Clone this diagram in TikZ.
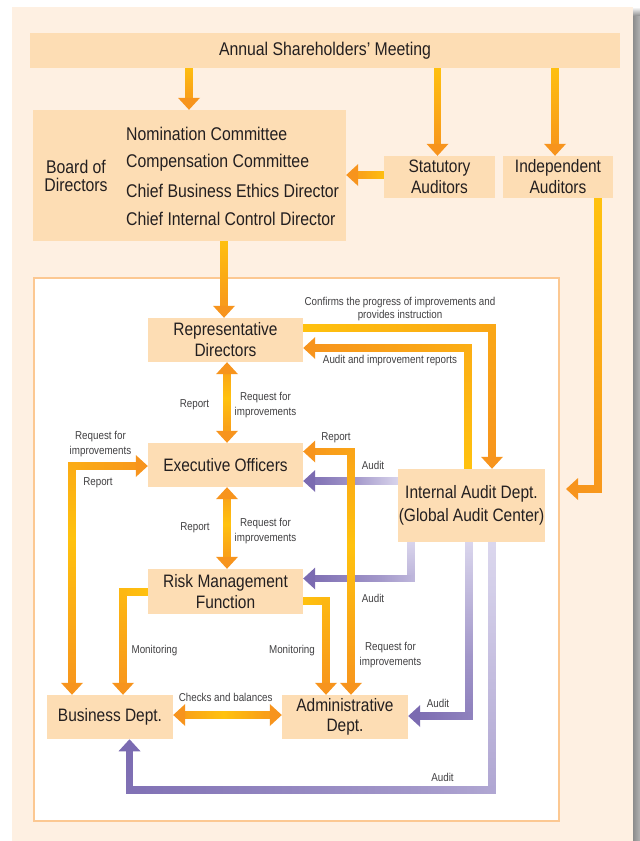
\documentclass[tikz,border=0pt]{standalone}
\usepackage{fontspec}
\setmainfont{Liberation Sans}[FakeStretch=0.86]
\usetikzlibrary{decorations.markings,calc}
\definecolor{cOr}{HTML}{F7941D}
\definecolor{cYe}{HTML}{FFC20E}
\colorlet{cYO}{cYe!50!cOr}
\definecolor{cPu}{HTML}{7B6BB1}
\definecolor{cLa}{HTML}{DCD8EE}
\colorlet{cLP}{cLa!40!cPu}
\definecolor{cBox}{HTML}{FDDDB4}
\definecolor{cBg}{HTML}{FEF0E2}
\definecolor{cBd}{HTML}{FCC892}
\definecolor{cTx}{HTML}{231F20}
\definecolor{cLb}{HTML}{414042}
\pgfdeclarelayer{bg}
\pgfsetlayers{bg,main}
\newcommand\gsq[5]{%
  \pgfmathsetmacro\gD{\pgfkeysvalueof{/pgf/decoration/mark info/distance from start}}%
  \pgfmathsetmacro\gL{\pgfdecoratedpathlength}%
  \pgfmathtruncatemacro\gOK{(\gD>=#4*12-0.01)&&(\gD<=\gL-#5*12+0.01)}%
  \ifnum\gOK=1
    \pgfmathtruncatemacro\gP{round((\gD/\gL)*200)}%
    \ifnum\gP<100
      \fill[color=#2!\gP!#1] (-3.75pt,-3.75pt) rectangle (3.75pt,3.75pt);%
    \else
      \pgfmathtruncatemacro\gQ{min(\gP-100,100)}%
      \fill[color=#3!\gQ!#2] (-3.75pt,-3.75pt) rectangle (3.75pt,3.75pt);%
    \fi
  \fi}
\tikzset{
  box/.style={fill=cBox, draw=none, text=cTx, inner sep=0pt, align=center,
    font=\fontsize{18}{21}\selectfont},
  txt/.style={text=cTx, inner sep=0pt, align=center, font=\fontsize{18.4}{21}\selectfont},
  lbl/.style={text=cLb, inner sep=0pt, align=center, font=\fontsize{11.4}{15}\selectfont},
  conn/.style n args={5}{draw=none,
    postaction={decorate, decoration={markings,
      mark=between positions 0 and 1 step 1pt with {\gsq{#1}{#2}{#3}{#4}{#5}}}},
    postaction={decorate, decoration={markings,
      mark=at position 0 with {\ifnum#4=1 \fill[#1] (0pt,0pt)--(12pt,11pt)--(12pt,-11pt)--cycle;\fi},
      mark=at position 0.9999 with {\ifnum#5=1 \fill[#3] (0pt,0pt)--(-12pt,11pt)--(-12pt,-11pt)--cycle;\fi}}}},
}
\begin{document}
\begin{tikzpicture}[x=1pt,y=-1pt]
\useasboundingbox (0,0) rectangle (640,841);
% nodes
\node[box, minimum width=590, minimum height=35, font=\fontsize{18.4}{21}\selectfont] (asm) at (325,50.5) {Annual Shareholders’ Meeting};
\node[box, minimum width=313, minimum height=131] (board) at (189.5,175.5) {};
\node[txt, font=\fontsize{18.4}{18}\selectfont] (boardlbl) at (76,176) {Board of\\Directors};
\node[txt, anchor=west] (nom) at (126,133.7) {Nomination Committee};
\node[txt, anchor=west] (comp) at (126,162.7) {Compensation Committee};
\node[txt, anchor=west] (ethic) at (126,190.7) {Chief Business Ethics Director};
\node[txt, anchor=west] (ctrl) at (126,219) {Chief Internal Control Director};
\node[box, minimum width=111, minimum height=42] (stat) at (439.5,177) {Statutory\\Auditors};
\node[box, minimum width=110, minimum height=42] (indep) at (558,177) {Independent\\Auditors};
\node[box, minimum width=155, minimum height=44] (rep) at (225.5,340) {Representative\\Directors};
\node[box, minimum width=155, minimum height=44] (exec) at (225.5,465) {Executive Officers};
\node[box, minimum width=155, minimum height=45, font=\fontsize{18}{20.3}\selectfont] (risk) at (225.5,591.5) {Risk Management\\Function};
\node[box, minimum width=126, minimum height=44] (biz) at (110,717) {Business Dept.};
\node[box, minimum width=126, minimum height=44, font=\fontsize{18}{19.7}\selectfont] (admin) at (345,717) {Administrative\\Dept.};
\node[box, minimum width=147, minimum height=73, font=\fontsize{18}{23.5}\selectfont] (iad) at (471.5,505.5) {Internal Audit Dept.\\(Global Audit Center)};
% labels
\node[lbl, font=\fontsize{11.4}{12.5}\selectfont] (lconf) at (400,309) {Confirms the progress of improvements and\\provides instruction};
\node[lbl] (laur) at (390,361) {Audit and improvement reports};
\node[lbl] (lrpt1) at (194.5,405) {Report};
\node[lbl] (lreq1) at (265.5,405) {Request for\\improvements};
\node[lbl, font=\fontsize{11.4}{14.5}\selectfont] (lreqL) at (100.5,444) {Request for\\improvements};
\node[lbl] (lrptL) at (98,483) {Report};
\node[lbl] (lrptR) at (336,437.5) {Report};
\node[lbl] (laud1) at (373,465) {Audit};
\node[lbl] (lrpt2) at (195,528) {Report};
\node[lbl] (lreq2) at (265.5,531) {Request for\\improvements};
\node[lbl] (laud2) at (373,598) {Audit};
\node[lbl] (lmon1) at (154.5,651) {Monitoring};
\node[lbl] (lmon2) at (292,651) {Monitoring};
\node[lbl, font=\fontsize{11.4}{14.7}\selectfont] (lreq3) at (390.5,655) {Request for\\improvements};
\node[lbl] (lchk) at (225.7,697) {Checks and balances};
\node[lbl] (laud3) at (438,703.5) {Audit};
\node[lbl] (laud4) at (442.5,777.5) {Audit};
\coordinate (indA) at ($(indep.south east)+(-15,0)$);
\coordinate (indT) at (566,489);
\begin{pgfonlayer}{bg}
\fill[cBg] (12,7) rectangle (633,841);
\shade[top color=white, bottom color=black!45] (633,7) rectangle (640,16);
\shade[left color=black!45, right color=black!30] (633,16) rectangle (640,841);
\node[draw=cBd, line width=2.5pt, fill=white, minimum width=525, minimum height=543, inner sep=0pt] (inner) at (296.5,549.5) {};
% purple audit connectors
\draw[conn={cLa}{cLP}{cPu}{0}{1}] ($(iad.west)+(0,-24.5)$) -- ($(exec.east)+(0,16)$);
\draw[conn={cLa}{cLP}{cPu}{0}{1}] ($(iad.south)+(-60.5,0)$) |- ($(risk.east)+(0,-13)$);
\draw[conn={cLa}{cLP}{cPu}{0}{1}] ($(iad.south)+(-2.5,0)$) |- ($(admin.east)+(0,-1)$);
\draw[conn={cLa}{cLP}{cPu}{0}{1}] ($(iad.south)+(20.5,0)$) |- ($(biz.south)+(19.5,51)$) -- ($(biz.south)+(19.5,0)$);
% orange connectors
\draw[conn={cYe}{cYO}{cOr}{0}{1}] ($(board.north |- asm.south)+(-0.5,0)$) -- ($(board.north)+(-0.5,0)$);
\draw[conn={cYe}{cYO}{cOr}{0}{1}] ($(stat.north |- asm.south)+(-2,0)$) -- ($(stat.north)+(-2,0)$);
\draw[conn={cYe}{cYO}{cOr}{0}{1}] ($(indep.north |- asm.south)+(-3,0)$) -- ($(indep.north)+(-3,0)$);
\draw[conn={cYe}{cYO}{cOr}{0}{1}] ($(stat.west)+(0,-2)$) -- ($(board.east |- stat.west)+(0,-2)$);
\draw[conn={cYe}{cYO}{cOr}{0}{1}] (indA) |- (indT);
\draw[conn={cYe}{cYO}{cOr}{0}{1}] ($(rep.north |- board.south)+(-1.5,0)$) -- ($(rep.north)+(-1.5,0)$);
\draw[conn={cYe}{cYO}{cOr}{0}{1}] ($(rep.east)+(0,-12)$) -| ($(iad.north)+(20.5,0)$);
\draw[conn={cYe}{cYO}{cOr}{0}{1}] ($(iad.north)+(-3.5,0)$) |- ($(rep.east)+(0,8)$);
\draw[conn={cOr}{cYe}{cOr}{1}{1}] ($(rep.south)+(1.5,0)$) -- ($(exec.north)+(1.5,0)$);
\draw[conn={cOr}{cYe}{cOr}{1}{1}] ($(exec.south)+(1.5,0)$) -- ($(risk.north)+(1.5,0)$);
\draw[conn={cOr}{cYe}{cOr}{1}{1}] ($(exec.west)+(0,1)$) -| ($(biz.north)+(-38,0)$);
\draw[conn={cOr}{cYe}{cOr}{1}{1}] ($(exec.east)+(0,-13.5)$) -| ($(admin.north)+(6,0)$);
\draw[conn={cYe}{cYO}{cOr}{0}{1}] ($(risk.west)+(0,0.5)$) -| ($(biz.north)+(13,0)$);
\draw[conn={cYe}{cYO}{cOr}{0}{1}] ($(risk.east)+(0,9.5)$) -| ($(admin.north)+(-19,0)$);
\draw[conn={cOr}{cYe}{cOr}{1}{1}] ($(biz.east)+(0,-2)$) -- ($(admin.west)+(0,-2)$);
\end{pgfonlayer}
\end{tikzpicture}
\end{document}
